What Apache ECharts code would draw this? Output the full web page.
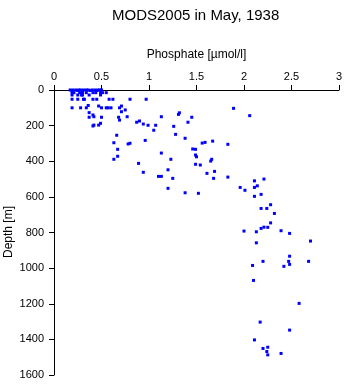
<!DOCTYPE html>
<html>
<head>
<meta charset="utf-8">
<script src="https://cdn.jsdelivr.net/npm/echarts@6/dist/echarts.min.js"></script>
<style>html,body{margin:0;padding:0;background:#fff}#c{width:345px;height:384px}</style>
</head>
<body>
<div id="c"></div>
<script>
var titleText = 'MODS2005 in May, 1938';
var xName = 'Phosphate [\u00b5mol/l]';
var yName = 'Depth [m]';
var xTicks = [0, 0.5, 1, 1.5, 2, 2.5, 3];
var yTicks = [0, 200, 400, 600, 800, 1000, 1200, 1400, 1600];

var phosphate = [
  0.17,0.20,0.23,0.26,0.28,0.31,0.34,0.36,0.40,0.43,0.46,0.48,0.50,
  0.19,0.25,0.30,0.38,0.45,
  0.19,0.21,0.27,0.30,0.34,0.41,0.44,0.49,0.51,0.55,
  0.19,0.25,0.29,0.30,0.37,0.49,
  0.19,0.25,0.31,0.32,0.41,0.45,0.58,0.62,0.80,0.97,
  0.47,0.71,0.36,
  0.19,0.28,0.34,0.50,0.55,0.57,0.60,0.69,
  0.75,0.71,1.89,0.37,0.41,
  0.42,0.77,1.13,
  0.37,0.50,0.68,1.45,
  0.69,1.32,1.31,2.06,
  0.49,0.47,0.42,0.41,
  0.87,0.90,0.94,0.99,1.07,1.05,1.26,1.41,1.28,1.38,
  0.66,0.63,0.67,0.78,0.80,0.96,
  1.13,1.23,1.46,1.49,1.49,1.50,1.56,1.59,1.67,1.83,
  0.63,0.67,0.89,0.94,1.20,1.10,1.13,1.25,1.20,1.38,1.52,
  1.49,1.54,1.66,1.65,1.69,1.61,1.68,1.83,1.96,2.01,
  2.11,2.21,2.11,2.14,2.11,2.18,2.28,2.18,2.24,2.32,2.28,2.18,2.21,2.25,2.00,2.13,2.39,2.48,
  2.13,2.70,2.20,2.48,2.47,2.48,2.09,2.68,2.42,2.10,2.58,2.17,2.48,2.11,2.20,2.25,2.24,2.25,2.39
];
var depth = [
  0,0,0,0,0,0,0,0,0,0,0,0,0,
  3,3,3,3,3,
  15,15,15,15,15,15,15,15,15,15,
  28,28,28,28,28,28,
  52,52,52,52,52,52,52,52,52,52,
  90,90,87,
  100,100,100,100,100,100,100,100,
  112,122,103,127,140,
  150,150,150,
  153,153,153,153,
  169,128,137,144,
  187,197,197,202,
  181,174,191,198,198,226,204,181,249,271,
  254,296,333,303,299,283,
  354,389,331,333,365,375,298,294,287,305,
  389,372,412,462,448,485,485,496,552,577,580,
  417,421,389,399,457,468,496,489,547,563,
  510,500,547,538,597,586,644,665,665,693,746,777,770,771,792,796,790,805,
  858,848,962,933,962,979,985,962,990,1069,1198,1303,1348,1403,1451,1444,1468,1487,1479
];

var data = phosphate.map(function (p, i) { return [p, depth[i]]; });
var font = '"Liberation Sans", Arial, Helvetica, sans-serif';
var chart = echarts.init(document.getElementById('c'), null, {renderer: 'canvas'});
chart.setOption({
  animation: false,
  backgroundColor: '#ffffff',
  title: {
    text: titleText, left: 107, top: 3,
    textStyle: {fontSize: 15, fontWeight: 'normal', color: '#000', fontFamily: font}
  },
  graphic: [{
    type: 'text', x: 9, y: 232, rotation: Math.PI / 2,
    style: {text: yName, fontSize: 12, fill: '#000', fontFamily: font,
      align: 'center', verticalAlign: 'middle'}
  }],
  grid: {left: 54, right: 6, top: 90, bottom: 9, containLabel: false, outerBoundsMode: 'none'},
  xAxis: {
    type: 'value', position: 'top', min: xTicks[0], max: xTicks[xTicks.length - 1], interval: 0.5,
    name: xName, nameLocation: 'middle', nameGap: 29,
    nameTextStyle: {fontSize: 12, color: '#000', fontFamily: font},
    axisLine: {show: true, lineStyle: {color: '#000', width: 1}},
    axisTick: {show: true, inside: false, length: 5, lineStyle: {color: '#000'}},
    axisLabel: {fontSize: 11, color: '#000', fontFamily: font, margin: 8,
      formatter: function (v) { return String(v); }},
    splitLine: {show: false}
  },
  yAxis: {
    type: 'value', inverse: true, min: yTicks[0], max: yTicks[yTicks.length - 1], interval: 200,
    axisLine: {show: true, lineStyle: {color: '#000', width: 1}},
    axisTick: {show: true, inside: false, length: 5, lineStyle: {color: '#000'}},
    axisLabel: {fontSize: 11, color: '#000', fontFamily: font, margin: 10,
      formatter: function (v) { return String(v); }},
    splitLine: {show: false}
  },
  series: [{
    type: 'scatter', data: data, symbol: 'rect', symbolSize: 3,
    itemStyle: {color: '#0000ff', opacity: 1}
  }]
});
</script>
</body>
</html>
